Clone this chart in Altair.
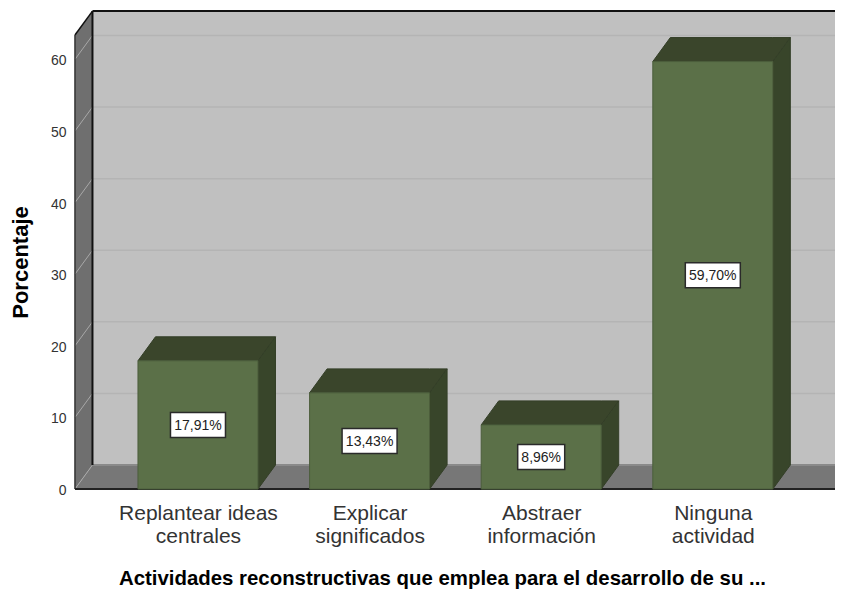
import altair as alt
import pandas as pd

categories = ["Replantear ideas|centrales", "Explicar|significados", "Abstraer|información", "Ninguna|actividad"]
values = [17.91, 13.43, 8.96, 59.70]
value_labels = ["17,91%", "13,43%", "8,96%", "59,70%"]
y_ticks = [0, 10, 20, 30, 40, 50, 60]

PXU = 171.6          # pixels per category step
PXV = 7.16           # pixels per percent
X_DOM = [-1.107, 3.712]
Y_DOM = [-14.1, 67.18]
DX = 17.5 / PXU      # depth offset, x units
DY = 3.35            # depth offset, y units
BAR = 120 / PXU
LEFT = (75 - 198) / PXU
RIGHT = (837 - 198) / PXU
TOP = 63.4

xs = alt.Scale(domain=X_DOM, nice=False, zero=False)
ys = alt.Scale(domain=Y_DOM, nice=False, zero=False)


def face(pts, color, stroke=None):
    df = pd.DataFrame(pts, columns=["x", "y", "y2"])
    kw = dict(color=color, clip=True, opacity=1, interpolate="linear")
    if stroke:
        kw.update(stroke=stroke, strokeWidth=1)
    return alt.Chart(df).mark_area(**kw).encode(
        x=alt.X("x:Q", scale=xs, axis=None),
        y=alt.Y("y:Q", scale=ys, axis=None),
        y2="y2:Q",
    )


def seg(x0, y0, x1, y1, color, width=1):
    df = pd.DataFrame({"x": [x0, x1], "y": [y0, y1]})
    return alt.Chart(df).mark_line(color=color, strokeWidth=width, clip=True).encode(
        x=alt.X("x:Q", scale=xs, axis=None),
        y=alt.Y("y:Q", scale=ys, axis=None),
    )


layers = []

# axes carrier
label_expr = "split(" + str(categories) + "[datum.value], '|')"
axis_df = pd.DataFrame({"x": [0, 1, 2, 3], "y": [0, 0, 0, 0]})
layers.append(
    alt.Chart(axis_df).mark_point(opacity=0).encode(
        x=alt.X("x:Q", scale=xs, title="Actividades reconstructivas que emplea para el desarrollo de su ...",
                axis=alt.Axis(values=[0, 1, 2, 3], offset=-101, domain=False, ticks=False, grid=False,
                              labelExpr=label_expr, labelFont="Liberation Sans", labelFontSize=21,
                              labelColor="#333333", labelPadding=13, labelLineHeight=23, labelBaseline="top",
                              labelOverlap=False, labelFlush=False,
                              titleFont="Liberation Sans", titleFontSize=20.4, titleFontWeight="bold",
                              titleColor="#000000", titleX=442 - 8, titleY=89, titleBaseline="middle",
                              titleAnchor="middle")),
        y=alt.Y("y:Q", scale=ys, title="Porcentaje",
                axis=alt.Axis(values=y_ticks, offset=-67, domain=False, ticks=False, grid=False,
                              labelFont="Liberation Sans", labelFontSize=14, labelColor="#333333", labelPadding=9,
                              labelOffset=1.5,
                              titleFont="Liberation Sans", titleFontSize=22, titleFontWeight="bold",
                              titleColor="#000000", titleX=-43, titleY=254)),
    )
)

# walls and floor
BX0 = LEFT + DX
layers.append(face([(BX0, DY, TOP + DY), (X_DOM[1], DY, TOP + DY)], "#c0c0c0"))
layers.append(face([(LEFT, 0, TOP), (BX0, DY, TOP + DY)], "#6f6f6f"))
layers.append(face([(LEFT, 0, 0), (BX0, 0, DY), (RIGHT, 0, DY), (RIGHT + DX, DY, DY)], "#777777"))

# gridlines
for t in y_ticks[1:] :
    layers.append(seg(BX0, t + DY, X_DOM[1], t + DY, "#b4b4b4", 1.5))
for t in y_ticks:
    layers.append(seg(LEFT, t, BX0, t + DY, "#a8a8a8", 1))

# frame
layers.append(seg(BX0, DY, X_DOM[1], DY, "#8a8a8a", 2))
layers.append(seg(BX0, DY, BX0, TOP + DY, "#111111", 2))
layers.append(seg(BX0, TOP + DY, X_DOM[1], TOP + DY, "#111111", 2))
layers.append(seg(LEFT, TOP, BX0, TOP + DY, "#111111", 1.5))
layers.append(seg(LEFT, 0, LEFT, TOP, "#333333", 1.5))
layers.append(seg(LEFT, 0, RIGHT, 0, "#222222", 2))
layers.append(seg(RIGHT, 0, RIGHT + DX, DY, "#222222", 1.5))

# bars
for i, v in enumerate(values):
    x0, x1 = i - BAR / 2, i + BAR / 2
    layers.append(face([(x0, v, v), (x0 + DX, v, v + DY), (x1, v, v + DY), (x1 + DX, v + DY, v + DY)],
                       "#3a452b", "#333e27"))
    layers.append(face([(x1, 0, v), (x1 + DX, DY, v + DY)], "#38452a", "#333e27"))
    layers.append(face([(x0, 0, v), (x1, 0, v)], "#5b7048", "#4c5e3c"))

# value labels
lab = pd.DataFrame({"x": list(range(4)), "y": [v / 2 for v in values], "t": value_labels})
half_w = lab["t"].str.len().map({6: 27.5, 5: 23.5}) / PXU
half_h = 12.5 / PXV
lab["x0"], lab["x1"] = lab["x"] - half_w, lab["x"] + half_w
lab["y0"], lab["y1"] = lab["y"] - half_h, lab["y"] + half_h
layers.append(alt.Chart(lab).mark_rect(color="#ffffff", stroke="#2a2a2a", strokeWidth=1.5).encode(
    x=alt.X("x0:Q", scale=xs, axis=None), x2="x1:Q",
    y=alt.Y("y0:Q", scale=ys, axis=None), y2="y1:Q"))
layers.append(alt.Chart(lab).mark_text(font="Liberation Sans", fontSize=14, color="#222222", dy=1).encode(
    x=alt.X("x:Q", scale=xs, axis=None), y=alt.Y("y:Q", scale=ys, axis=None), text="t:N"))

chart = alt.layer(*layers).resolve_axis(x="independent", y="independent").properties(
    width=827, height=582, padding=0, autosize=alt.AutoSizeParams(type="none"),
).configure_view(stroke=None)

chart.save("out.html", embed_options={"renderer": "svg", "actions": False})
